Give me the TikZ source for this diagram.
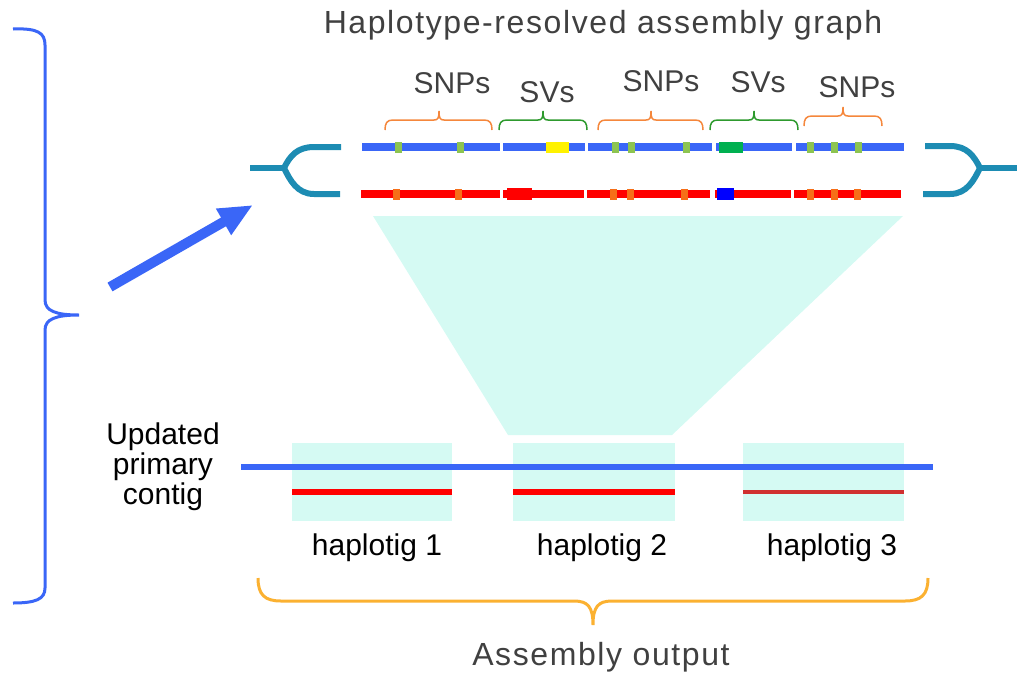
\documentclass[tikz,border=0pt]{standalone}
\usepackage{fontspec}
\setmainfont{Liberation Sans}
\newfontfamily\spacedfont[LetterSpace=5]{Liberation Sans}
\usetikzlibrary{arrows.meta}

\definecolor{hapblue}{RGB}{58,102,247}
\definecolor{hapred}{RGB}{255,0,0}
\definecolor{darkred}{RGB}{208,48,48}
\definecolor{snpgreen}{RGB}{141,196,81}
\definecolor{snporange}{RGB}{246,110,24}
\definecolor{braceorange}{RGB}{245,135,60}
\definecolor{bracegreen}{RGB}{46,154,46}
\definecolor{svgreen}{RGB}{0,176,80}
\definecolor{forkteal}{RGB}{29,140,179}
\definecolor{aqua}{RGB}{213,250,243}
\definecolor{outorange}{RGB}{251,177,49}
\definecolor{textgray}{RGB}{64,64,64}

\begin{document}
\begin{tikzpicture}[x=1pt, y=-1pt,
    graytext/.style={text=textgray, font=\spacedfont\fontsize{30}{30}\selectfont},
    blacktext/.style={font=\fontsize{30}{30}\selectfont, align=center},
    bar/.style={line width=8pt}]
        \useasboundingbox (0,0) rectangle (1025,675);

        % Title
        \node[graytext, font=\spacedfont\fontsize{32}{32}\selectfont] (title) at (603,25) {Haplotype-resolved assembly graph};

        % Left brace and arrow
        \draw[hapblue, line width=3pt] (13,29) .. controls (38,28) and (45,33) .. (45,45) -- (45,300)
            .. controls (45,311) and (56,315) .. (79,315) .. controls (56,315) and (45,319) .. (45,330)
            -- (45,588) .. controls (45,599) and (36,603) .. (13,603);
        \coordinate (start) at (110,287);
        \coordinate (graph) at (253,205);
        \draw[hapblue, line width=10pt, -{Triangle[length=34pt,width=28pt]}] (start) -- (graph);

        % Zoom region
        \fill[aqua] (373,216) -- (903,216) -- (672,435) -- (508,435) -- cycle;
        \fill[aqua] (292,443) rectangle (452,521);
        \fill[aqua] (513,443) rectangle (675,521);
        \fill[aqua] (743,443) rectangle (904,521);

        % Forks
        \draw[forkteal, line width=6pt] (250,168) -- (284,168);
        \draw[forkteal, line width=6pt] (284,168) .. controls (290,156) and (297,147) .. (314,147) -- (341,147);
        \draw[forkteal, line width=6pt] (284,168) .. controls (290,180) and (297,194) .. (314,194) -- (340,194);
        \draw[forkteal, line width=6pt] (980,168) -- (1017,168);
        \draw[forkteal, line width=6pt] (925,146) -- (950,146) .. controls (967,146) and (974,156) .. (980,168);
        \draw[forkteal, line width=6pt] (923,194) -- (950,194) .. controls (967,194) and (974,180) .. (980,168);

        % Haplotype bars
        \foreach \a/\b in {362/500,503/585,588/712,716/792,796/904}
            \draw[hapblue, bar] (\a,147) -- (\b,147);
        \foreach \a/\b in {361/500,503/584,587/710,715/791,794/901}
            \draw[hapred, bar] (\a,194) -- (\b,194);

        % SNPs
        \foreach \x in {398,460,615,631,686,810,834,858}
            \fill[snpgreen] (\x-3.5,141.5) rectangle ++(7,11);
        \foreach \x in {396,458,613,630,684,810,834,857}
            \fill[snporange] (\x-3.5,188.5) rectangle ++(7,11);

        % SVs
        \fill[yellow] (546,141.5) rectangle (569,152.5);
        \fill[svgreen] (719,141.5) rectangle (743,152.5);
        \fill[hapred] (507,188) rectangle (532,200);
        \fill[blue] (717,188) rectangle (734,200);

        % Small braces
        \foreach \a/\b/\m/\h/\c in {385/492/439/120/braceorange, 499/587/543/120/bracegreen,
                598/703/651/120/braceorange, 710/798/754/120/bracegreen, 804/882/843/116/braceorange}
            \draw[\c, line width=1.5pt] (\a,\h+10) .. controls (\a,\h+3) and (\a+2,\h) .. (\a+8,\h)
                -- (\m-5,\h) .. controls (\m-1,\h) and (\m,\h-2) .. (\m,\h-9)
                .. controls (\m,\h-2) and (\m+1,\h) .. (\m+5,\h) -- (\b-8,\h)
                .. controls (\b-2,\h) and (\b,\h+3) .. (\b,\h+10);
        \foreach \x/\y/\t [count=\i] in {452/83/SNPs, 547/92/SVs, 661/81/SNPs, 758/82/SVs, 857/87/SNPs}
            \node[graytext, font=\fontsize{30}{30}\selectfont] (var\i) at (\x,\y) {\t};

        % Updated primary contig and haplotigs
        \draw[hapblue, line width=6pt] (241,467) -- (933,467);
        \draw[hapred, line width=6pt] (292,492) -- (452,492);
        \draw[hapred, line width=6pt] (513,492) -- (675,492);
        \draw[darkred, line width=4pt] (743,492) -- (904,492);
        \node[blacktext] (contig) at (163,467) {Updated\\primary\\contig};
        \node[blacktext] (hap1) at (377,548) {haplotig 1};
        \node[blacktext] (hap2) at (602,548) {haplotig 2};
        \node[blacktext] (hap3) at (832,548) {haplotig 3};

        % Bottom brace
        \draw[outorange, line width=3pt] (258,578) .. controls (258,595) and (265,601) .. (281,601) -- (574,601)
            .. controls (588,601) and (593,607) .. (593,625) .. controls (593,607) and (598,601) .. (612,601)
            -- (905,601) .. controls (921,601) and (928,595) .. (928,578);
        \node[graytext, font=\spacedfont\fontsize{32}{32}\selectfont] (output) at (601,657) {Assembly output};

      \end{tikzpicture}
\end{document}
